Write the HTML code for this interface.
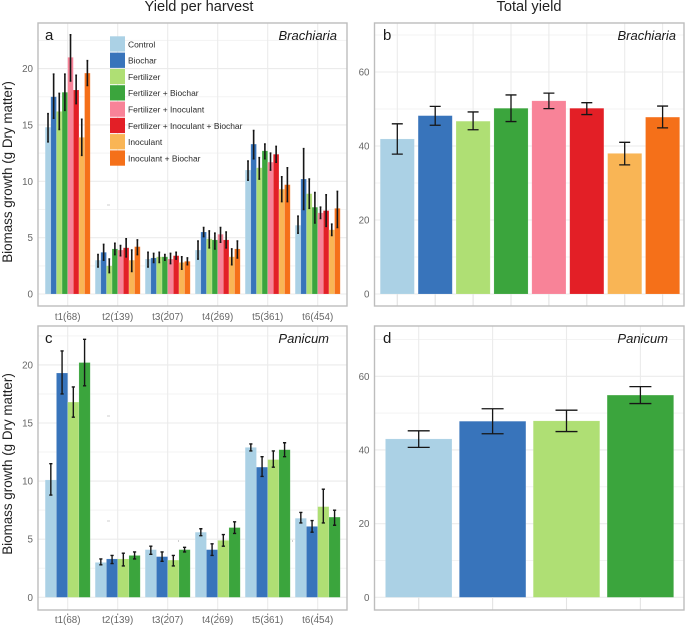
<!DOCTYPE html>
<html lang="en">
<head>
<meta charset="utf-8">
<title>Biomass yield per harvest and total yield</title>
<style>
html,body{margin:0;padding:0;background:#fff;width:685px;height:626px;overflow:hidden}
svg{display:block;font-family:"Liberation Sans",sans-serif;filter:blur(0.3px)}
.tick{fill:#666;font-size:9.8px}
.title{fill:#222;font-size:14.6px}
.ytitle{fill:#222;font-size:13.4px}
.tag{fill:#1a1a1a;font-size:15px}
.species{fill:#1a1a1a;font-size:13px;font-style:italic}
.legend-text{fill:#2b2b2b;font-size:8.45px}
</style>
</head>
<body>
<svg id="figure" width="685" height="626" viewBox="0 0 685 626" xmlns="http://www.w3.org/2000/svg">
  <rect width="685" height="626" fill="#fff"/>
  <g id="layer"></g>
  <text class="title" x="199" y="11" text-anchor="middle">Yield per harvest</text>
  <text class="title" x="529" y="11" text-anchor="middle">Total yield</text>
  <text class="ytitle" transform="translate(12,172) rotate(-90)" text-anchor="middle">Biomass growth (g Dry matter)</text>
  <text class="ytitle" transform="translate(12,464) rotate(-90)" text-anchor="middle">Biomass growth (g Dry matter)</text>
  <text class="tag" x="45" y="40">a</text>
  <text class="tag" x="383" y="40">b</text>
  <text class="tag" x="45" y="343">c</text>
  <text class="tag" x="383" y="343">d</text>
  <text class="species" x="337" y="40" text-anchor="end">Brachiaria</text>
  <text class="species" x="676" y="40" text-anchor="end">Brachiaria</text>
  <text class="species" x="329" y="343" text-anchor="end">Panicum</text>
  <text class="species" x="668" y="343" text-anchor="end">Panicum</text>
</svg>
<script>
const harvestLabels = ['t1(68)', 't2(139)', 't3(207)', 't4(269)', 't5(361)', 't6(454)'];
const treatmentNames = ['Control', 'Biochar', 'Fertilizer', 'Fertilizer + Biochar', 'Fertilizer + Inoculant', 'Fertilizer + Inoculant + Biochar', 'Inoculant', 'Inoculant + Biochar'];
const harvestTicks = [0, 5, 10, 15, 20];
const totalTicks = [0, 20, 40, 60];

// Panel a: one row per harvest, one column per treatment
const brachiariaHarvestMeans = [
  [14.8, 17.5, 16.2, 17.9, 21.0, 18.1, 13.9, 19.6],
  [3.0, 3.7, 2.5, 4.0, 3.9, 4.1, 3.0, 4.2],
  [3.1, 3.2, 3.3, 3.3, 3.1, 3.4, 2.8, 2.9],
  [3.9, 5.5, 4.9, 4.8, 5.3, 4.8, 3.3, 4.0],
  [11.0, 13.3, 11.2, 12.7, 11.7, 12.4, 9.3, 9.7],
  [6.1, 10.2, 8.9, 7.7, 7.2, 7.4, 5.7, 7.6]
];
const brachiariaHarvestUpper = [
  [16.0, 19.5, 17.8, 19.5, 23.0, 19.4, 15.5, 20.7],
  [3.5, 4.4, 3.1, 4.5, 4.3, 4.9, 3.9, 4.8],
  [3.7, 3.6, 3.7, 3.5, 3.6, 3.7, 3.3, 3.2],
  [4.7, 5.9, 5.6, 5.4, 5.9, 5.5, 4.0, 4.7],
  [11.8, 14.5, 12.1, 13.3, 12.5, 13.1, 10.4, 11.2],
  [6.9, 12.9, 10.2, 9.0, 7.7, 8.8, 6.2, 9.1]
];
const brachiariaHarvestLower = [
  [13.5, 15.6, 14.6, 16.3, 18.9, 16.9, 12.3, 18.5],
  [2.4, 3.0, 1.9, 3.5, 3.4, 3.3, 2.0, 3.5],
  [2.4, 2.8, 2.8, 3.0, 2.7, 3.1, 2.2, 2.6],
  [3.1, 5.1, 4.1, 4.0, 4.6, 4.1, 2.6, 3.2],
  [10.1, 12.0, 10.2, 12.0, 11.0, 11.7, 8.2, 8.2],
  [5.4, 7.5, 7.6, 6.3, 6.7, 6.0, 5.2, 5.9]
];

// Panel c
const panicumHarvestMeans = [
  [10.1, 19.3, 16.8, 20.2],
  [3.0, 3.3, 3.3, 3.6],
  [4.1, 3.5, 3.2, 4.1],
  [5.6, 4.1, 4.9, 6.0],
  [12.9, 11.2, 11.85, 12.7],
  [6.8, 6.1, 7.8, 6.9]
];
const panicumHarvestUpper = [
  [11.5, 21.2, 18.1, 22.2],
  [3.3, 3.6, 3.8, 3.9],
  [4.4, 3.9, 3.6, 4.3],
  [5.9, 4.6, 5.4, 6.5],
  [13.2, 12.1, 12.6, 13.3],
  [7.3, 6.6, 9.3, 7.5]
];
const panicumHarvestLower = [
  [8.8, 17.5, 15.5, 18.2],
  [2.8, 2.9, 2.7, 3.3],
  [3.7, 3.1, 2.7, 3.9],
  [5.3, 3.6, 4.4, 5.5],
  [12.6, 10.4, 11.2, 12.1],
  [6.4, 5.6, 6.4, 6.2]
];

// Panel b
const brachiariaTotalMeans = [41.9, 48.2, 46.7, 50.2, 52.2, 50.2, 38.0, 47.8];
const brachiariaTotalUpper = [46.0, 50.7, 49.2, 53.8, 54.3, 51.7, 41.0, 50.8];
const brachiariaTotalLower = [37.8, 45.6, 44.4, 46.6, 50.1, 48.5, 34.9, 44.9];

// Panel d
const panicumTotalMeans = [43.0, 47.8, 47.9, 54.9];
const panicumTotalUpper = [45.2, 51.2, 50.8, 57.2];
const panicumTotalLower = [40.7, 44.4, 45.0, 52.6];

const treatmentColors = ['#abd1e5', '#3874bb', '#afdf74', '#3ba53d', '#f88398', '#e31f26', '#f9b555', '#f57019'];

const NS = 'http://www.w3.org/2000/svg';
const layer = document.getElementById('layer');

function make(tag, attrs, parent) {
  const el = document.createElementNS(NS, tag);
  for (const k in attrs) el.setAttribute(k, attrs[k]);
  (parent || layer).appendChild(el);
  return el;
}

function linearY(zeroPx, pxPerUnit) {
  return function (v) { return zeroPx - v * pxPerUnit; };
}
function bandX(firstCenter, step) {
  return function (i) { return firstCenter + i * step; };
}

function drawFrame(p, ticks, minorStep) {
  const g = make('g', {});
  
  
  for (let v = minorStep; p.y(v) > p.top; v += minorStep * 2) {
    const minor = make('line', { x1: p.left, x2: p.right, y1: p.y(v), y2: p.y(v), stroke: '#f3f3f3', 'stroke-width': 1 }, g);
    
    
  }
  ticks.forEach(function (t) {
    const major = make('line', { x1: p.left, x2: p.right, y1: p.y(t), y2: p.y(t), stroke: '#ebebeb', 'stroke-width': 1.1 }, g);
    
    
    const label = make('text', { x: p.left - 5, y: p.y(t) + 3.5, 'text-anchor': 'end', class: 'tick' });
    
    
    label.textContent = t;
  });
  for (let i = 0; i < p.count; i++) {
    const vert = make('line', { x1: p.x(i), x2: p.x(i), y1: p.top, y2: p.bottom, stroke: '#ebebeb', 'stroke-width': 1.1 }, g);
    
    
  }
}

function drawBorder(p) {
  const border = make('rect', { x: p.left, y: p.top, width: p.right - p.left, height: p.bottom - p.top, fill: 'none', stroke: '#bdbdbd', 'stroke-width': 1.4 });
  
  
}

function drawBar(p, cx, w, mean, up, low, color, capW, lw) {
  const bar = make('rect', { x: cx - w / 2, y: p.y(mean), width: w, height: p.y(0) - p.y(mean), fill: color, stroke: 'rgba(255,255,255,0.2)', 'stroke-width': 0.6 });
  
  
  const err = make('path', {
    d: 'M' + cx + ' ' + p.y(up) + 'V' + p.y(low) +
       'M' + (cx - capW / 2) + ' ' + p.y(up) + 'H' + (cx + capW / 2) +
       'M' + (cx - capW / 2) + ' ' + p.y(low) + 'H' + (cx + capW / 2),
    fill: 'none', stroke: '#161616', 'stroke-width': lw
  });
  
  
}

function drawHarvestPanel(p, means, upper, lower, capW, lw, labelY, dotY) {
  drawFrame(p, harvestTicks, 2.5);
  const groupW = p.step * 0.9;
  means.forEach(function (row, h) {
    const w = groupW / row.length;
    row.forEach(function (m, s) {
      const cx = p.x(h) - groupW / 2 + w * (s + 0.5);
      drawBar(p, cx, w, m, upper[h][s], lower[h][s], treatmentColors[s], capW, lw);
    });
  });
  harvestLabels.forEach(function (lab, h) {
    const t = make('text', { x: p.x(h), y: labelY, 'text-anchor': 'middle', class: 'tick' });
    
    
    t.textContent = lab;
    const mark = make('line', { x1: p.x(h), x2: p.x(h), y1: dotY, y2: dotY + 1.6, stroke: '#777', 'stroke-width': 1 });
    
    
  });
  drawBorder(p);
}

function drawTotalPanel(p, means, upper, lower, capW) {
  drawFrame(p, totalTicks, 10);
  means.forEach(function (m, i) {
    drawBar(p, p.x(i), p.step * 0.9, m, upper[i], lower[i], treatmentColors[i], capW, 1.3);
  });
  for (let i = 0; i < p.count; i++) {
    const mark = make('line', { x1: p.x(i), x2: p.x(i), y1: p.y(0), y2: p.bottom, stroke: '#e4e4e4', 'stroke-width': 1 });
    
    
  }
  drawBorder(p);
}

const panelA = { name: 'panel-a', left: 38, right: 347, top: 23, bottom: 306, count: 6, step: 50, x: bandX(67.7, 50), y: linearY(294, 11.27) };
const panelC = { name: 'panel-c', left: 38, right: 347, top: 326, bottom: 610, count: 6, step: 50, x: bandX(67.7, 50), y: linearY(597.3, 11.62) };
const panelB = { name: 'panel-b', left: 374.5, right: 684, top: 23, bottom: 306, count: 8, step: 37.9, x: bandX(397.3, 37.9), y: linearY(294, 3.7) };
const panelD = { name: 'panel-d', left: 374.5, right: 684, top: 326, bottom: 610, count: 4, step: 73.9, x: bandX(418.7, 73.9), y: linearY(597.3, 3.683) };

drawHarvestPanel(panelA, brachiariaHarvestMeans, brachiariaHarvestUpper, brachiariaHarvestLower, 1.8, 1.6, 320, 311);
drawHarvestPanel(panelC, panicumHarvestMeans, panicumHarvestUpper, panicumHarvestLower, 3.2, 1.4, 623, 613.5);
drawTotalPanel(panelB, brachiariaTotalMeans, brachiariaTotalUpper, brachiariaTotalLower, 11);
drawTotalPanel(panelD, panicumTotalMeans, panicumTotalUpper, panicumTotalLower, 22);

// Legend
const legend = make('g', {});


treatmentNames.forEach(function (name, i) {
  const top = 36.3 + i * 16.3;
  const swatch = make('rect', { x: 110, y: top, width: 15, height: 15.3, fill: treatmentColors[i] }, legend);
  
  
  const label = make('text', { x: 128, y: top + 11, class: 'legend-text' }, legend);
  
  
  label.textContent = name;
});

// Small stray marks visible in the source figure
const strayMarks = make('path', { d: 'M107 205h3M107 416h3M107 521h3M178.5 540v2M292.5 540v2', stroke: '#cfcfcf', 'stroke-width': 1, fill: 'none' });


</script>
</body>
</html>
